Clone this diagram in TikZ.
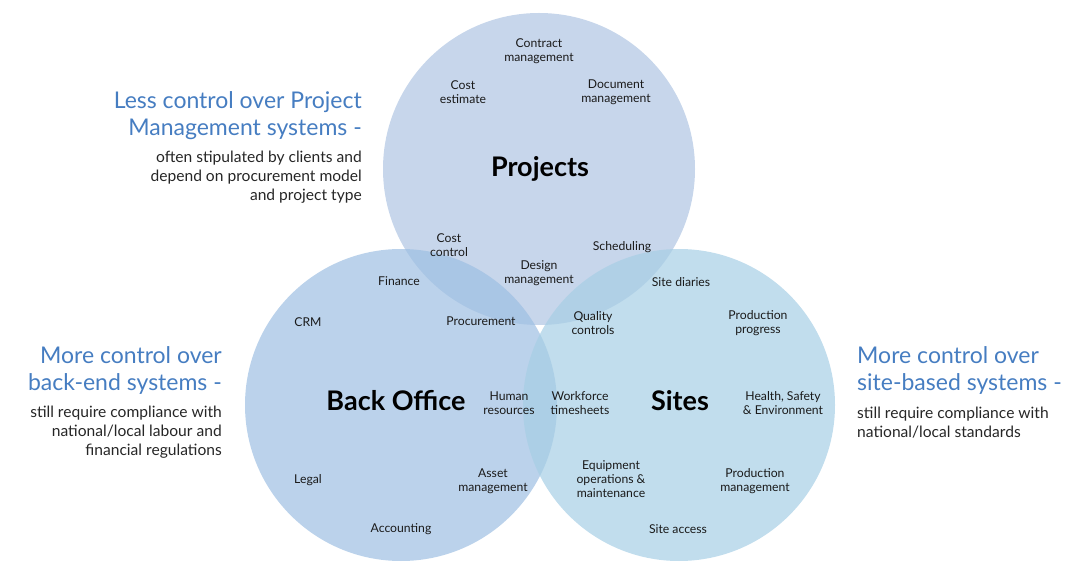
\documentclass[tikz,border=0pt]{standalone}
\usepackage{fontspec}
\setmainfont{Lato}
\usepackage{xcolor}
\usepackage{tikz}
\usetikzlibrary{positioning}
\definecolor{projfill}{RGB}{175,196,226}
\definecolor{backfill}{RGB}{158,191,226}
\definecolor{sitefill}{RGB}{166,206,229}
\definecolor{headblue}{RGB}{70,125,193}
\definecolor{notegray}{RGB}{38,38,38}
\definecolor{itemgray}{RGB}{26,26,26}
\tikzset{%
	area/.style={draw=none, circle, minimum size=312pt, inner sep=0pt, fill opacity=0.7},
	title/.style={text=black, font=\bfseries\fontsize{27}{31}\selectfont},
	item/.style={align=center, inner sep=0pt, yshift=-1pt, text=itemgray, font=\fontsize{12.2}{14}\selectfont},
	heading/.style={inner sep=0pt, text=headblue, font=\fontsize{23}{27}\selectfont},
	note/.style={inner sep=0pt, text=notegray, font=\fontsize{15.6}{19}\selectfont}
}
\begin{document}
\begin{tikzpicture}[x=1pt, y=-1pt]
	\useasboundingbox (0,0) rectangle (1080,577);
	\node[area, fill=projfill] (proj) at (539,169) {};
	\node[area, fill=backfill] (back) at (401,405) {};
	\node[area, fill=sitefill] (sites) at (679,405) {};

	\node[title] (projname) at (540,169) {Projects};
	\node[title] (backname) at (396,401) {Back Office};
	\node[title] (sitesname) at (680,401) {Sites};

	% projects
	\node[item] (contract) at (539,50) {Contract\\management};
	\node[item] (estimate) at (463,91) {Cost\\estimate};
	\node[item] (document) at (616,91) {Document\\management};
	\node[item] (costctrl) at (449,244) {Cost\\control};
	\node[item] (schedule) at (622,246) {Scheduling};
	\node[item] (design) at (539,272) {Design\\management};
	% back office
	\node[item] (finance) at (399,280) {Finance};
	\node[item] (crm) at (308,321) {CRM};
	\node[item] (procure) at (481,320) {Procurement};
	\node[item] (human) at (509,402) {Human\\resources};
	\node[item] (legal) at (308,479) {Legal};
	\node[item] (asset) at (493,480) {Asset\\management};
	\node[item] (account) at (401,528) {Accounting};
	% sites
	\node[item] (diaries) at (681,281) {Site diaries};
	\node[item] (quality) at (593,322) {Quality\\controls};
	\node[item] (progress) at (758,322) {Production\\progress};
	\node[item] (workforce) at (580,402) {Workforce\\timesheets};
	\node[item] (health) at (783,402) {Health, Safety\\\& Environment};
	\node[item] (equip) at (611,478) {Equipment\\operations \&\\maintenance};
	\node[item] (prodman) at (755,480) {Production\\management};
	\node[item] (access) at (678,528) {Site access};

	\node[heading, align=right, anchor=north east] (projhead) at (362,91)
		{Less control over Project\\Management systems -};
	\node[note, align=right, anchor=north east] (projnote) at (362,151)
		{often stipulated by clients and\\depend on procurement model\\and project type};
	\node[heading, align=right, anchor=north east] (backhead) at (222,346)
		{More control over\\back-end systems -};
	\node[note, align=right, anchor=north east] (backnote) at (222,406)
		{still require compliance with\\national/local labour and\\financial regulations};
	\node[heading, align=left, anchor=north west] (sitehead) at (857,346)
		{More control over\\site-based systems -};
	\node[note, align=left, anchor=north west] (sitenote) at (857,407)
		{still require compliance with\\national/local standards};
\end{tikzpicture}
\end{document}
